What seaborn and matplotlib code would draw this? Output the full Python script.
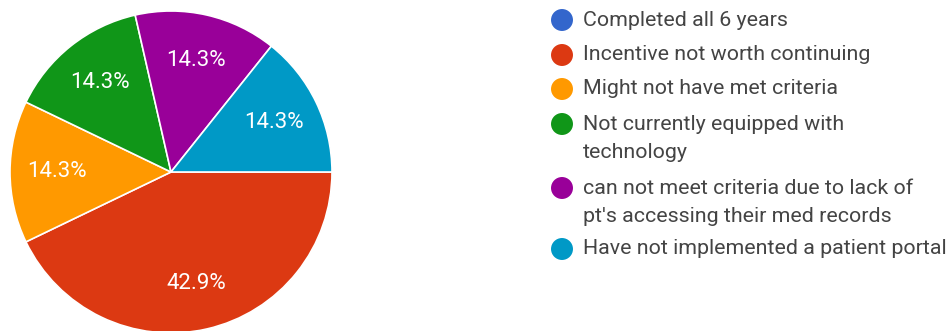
import matplotlib
matplotlib.use("Agg")
import matplotlib.pyplot as plt
import seaborn as sns

categories = [
    "Completed all 6 years",
    "Incentive not worth continuing",
    "Might not have met criteria",
    "Not currently equipped with\ntechnology",
    "can not meet criteria due to lack of\npt's accessing their med records",
    "Have not implemented a patient portal",
]
counts = [0, 3, 1, 1, 1, 1]
colors = ["#3366CC", "#DC3912", "#FF9900", "#109618", "#990099", "#0099C6"]

sns.set_theme(style="white")
plt.rcParams["font.family"] = ["Roboto", "DejaVu Sans"]

W, H, DPI = 953, 331, 100
fig = plt.figure(figsize=(W / DPI, H / DPI), dpi=DPI)
fig.patch.set_facecolor("white")

# pie: centre (171, 172) px, radius 161 px
cx, cy, r = 171, 172, 161
ax = fig.add_axes([(cx - r) / W, (H - cy - r) / H, 2 * r / W, 2 * r / H])
palette = sns.color_palette(colors)


def pct_label(p):
    return "" if p < 0.05 else f"{p:.1f}%"


wedges, texts, autotexts = ax.pie(
    counts,
    colors=palette,
    startangle=0,
    counterclock=False,
    autopct=pct_label,
    pctdistance=0.71,
    wedgeprops=dict(edgecolor="white", linewidth=1.2),
    textprops=dict(color="white", fontsize=16),
)
ax.set_xlim(-1, 1)
ax.set_ylim(-1, 1)
ax.set_aspect("equal")
ax.axis("off")

# legend drawn in pixel coordinates
lax = fig.add_axes([0, 0, 1, 1], facecolor="none")
lax.set_xlim(0, W)
lax.set_ylim(H, 0)
lax.axis("off")

line_y = [20, 55, 89, 124, 188, 249]
line_step = 29
marker_x, text_x = 562, 583
for y, label, col in zip(line_y, categories, palette):
    lax.scatter([marker_x], [y], s=250, color=col, edgecolors="none")
    for i, part in enumerate(label.split("\n")):
        lax.text(text_x, y + i * line_step, part, va="center", ha="left",
                 fontsize=15.4, color="#444444")

fig.savefig("out.png", dpi=DPI, facecolor="white")
